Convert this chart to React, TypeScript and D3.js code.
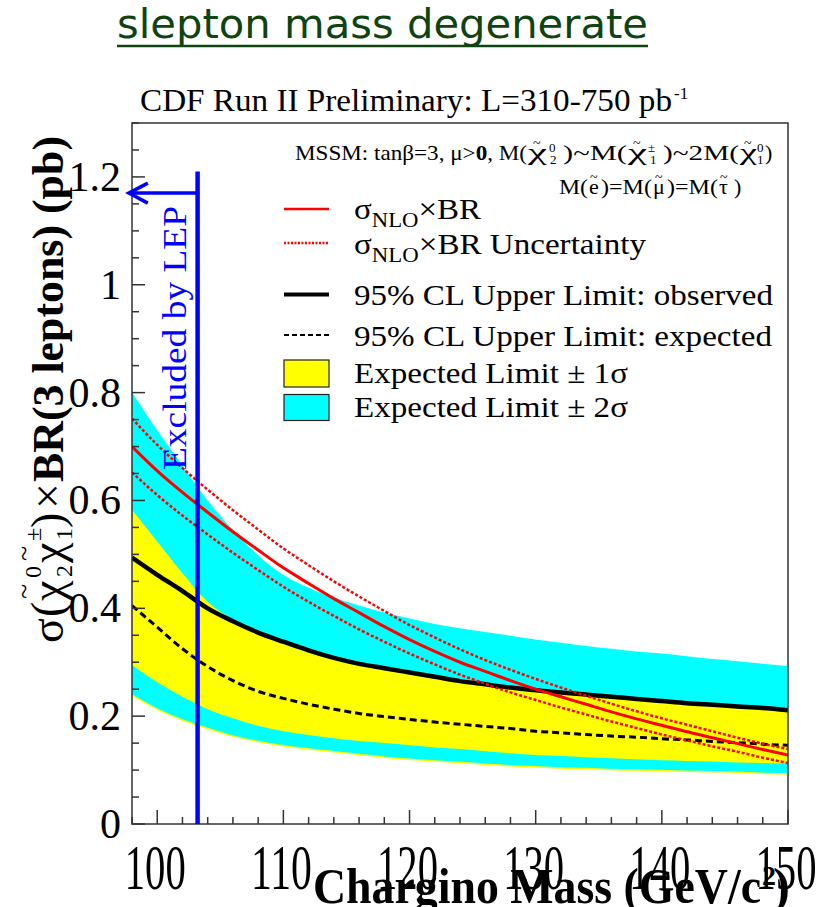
import React from "react";
import * as d3 from "d3";

// Chargino mass grid (GeV/c^2)
const masses = [98, 100, 102, 104, 106, 108, 110, 112, 114, 116, 118, 120, 122, 124, 126, 128, 130, 132, 134, 136, 138, 140, 142, 144, 146, 148, 150];

// sigma_NLO x BR and its uncertainty band (pb)
const xsecNLO = [0.700, 0.655, 0.615, 0.578, 0.542, 0.508, 0.475, 0.446, 0.418, 0.392, 0.366, 0.342, 0.320, 0.300, 0.283, 0.266, 0.250, 0.236, 0.222, 0.208, 0.195, 0.183, 0.171, 0.160, 0.149, 0.138, 0.128];
const xsecNLOUp = [0.752, 0.703, 0.660, 0.620, 0.582, 0.546, 0.511, 0.480, 0.450, 0.422, 0.395, 0.369, 0.346, 0.324, 0.304, 0.286, 0.269, 0.253, 0.238, 0.223, 0.209, 0.196, 0.184, 0.172, 0.160, 0.149, 0.139];
const xsecNLODown = [0.652, 0.610, 0.572, 0.537, 0.503, 0.471, 0.440, 0.412, 0.386, 0.361, 0.338, 0.316, 0.296, 0.277, 0.260, 0.244, 0.230, 0.216, 0.203, 0.190, 0.178, 0.166, 0.155, 0.144, 0.134, 0.123, 0.113];

// 95% CL upper limits (pb)
const obsLimit = [0.494, 0.462, 0.432, 0.400, 0.376, 0.355, 0.338, 0.322, 0.308, 0.297, 0.289, 0.281, 0.273, 0.265, 0.259, 0.253, 0.248, 0.244, 0.240, 0.236, 0.232, 0.228, 0.224, 0.221, 0.218, 0.215, 0.211];
const expLimit = [0.405, 0.365, 0.325, 0.292, 0.266, 0.246, 0.233, 0.222, 0.213, 0.205, 0.199, 0.194, 0.189, 0.185, 0.181, 0.177, 0.172, 0.169, 0.166, 0.163, 0.161, 0.158, 0.156, 0.153, 0.151, 0.148, 0.146];

// Expected limit bands
const exp1SigUp = [0.583, 0.524, 0.465, 0.412, 0.378, 0.353, 0.334, 0.318, 0.305, 0.294, 0.286, 0.278, 0.270, 0.263, 0.257, 0.251, 0.246, 0.241, 0.237, 0.233, 0.229, 0.225, 0.221, 0.218, 0.215, 0.212, 0.208];
const exp1SigDown = [0.295, 0.263, 0.236, 0.213, 0.196, 0.182, 0.172, 0.165, 0.159, 0.154, 0.150, 0.146, 0.142, 0.139, 0.135, 0.131, 0.128, 0.126, 0.124, 0.122, 0.120, 0.118, 0.117, 0.116, 0.114, 0.113, 0.112];
const exp2SigUp = [0.800, 0.730, 0.665, 0.600, 0.545, 0.498, 0.462, 0.438, 0.420, 0.405, 0.392, 0.381, 0.371, 0.363, 0.356, 0.349, 0.342, 0.336, 0.330, 0.325, 0.320, 0.316, 0.311, 0.306, 0.302, 0.297, 0.293];
const exp2SigDown = [0.239, 0.213, 0.193, 0.177, 0.163, 0.153, 0.145, 0.139, 0.134, 0.129, 0.124, 0.120, 0.117, 0.114, 0.111, 0.108, 0.106, 0.104, 0.103, 0.101, 0.100, 0.099, 0.098, 0.097, 0.096, 0.094, 0.093];

// Axes
const xDomain = [98, 150];
const yDomain = [0, 1.3];
const xMajorTicks = [100, 110, 120, 130, 140, 150];
const xTickLabels = ["100", "110", "120", "130", "140", "150"];
const yMajorTicks = [0, 0.2, 0.4, 0.6, 0.8, 1.0, 1.2];
const yTickLabels = ["0", "0.2", "0.4", "0.6", "0.8", "1", "1.2"];

// LEP exclusion
const lepMass = 103.2;
const lepLineTop = 1.21;
const lepArrowLevel = 1.17;
const lepArrowEnd = 97.75;

const FRAME = { left: 132, right: 788, top: 123, bottom: 824 };
const SERIF = '"Liberation Serif", "Times New Roman", Times, serif';

export default function App() {
  const x = d3.scaleLinear().domain(xDomain).range([FRAME.left, FRAME.right]);
  const y = d3.scaleLinear().domain(yDomain).range([FRAME.bottom, FRAME.top]);

  const idx = masses.map((_, i) => i);
  const band = (lo: number[], hi: number[]) =>
    d3
      .area<number>()
      .x((i) => x(masses[i]))
      .y0((i) => y(lo[i]))
      .y1((i) => y(hi[i]))
      .curve(d3.curveMonotoneX)(idx) || "";
  const curve = (vals: number[]) =>
    d3
      .line<number>()
      .x((i) => x(masses[i]))
      .y((i) => y(vals[i]))
      .curve(d3.curveMonotoneX)(idx) || "";

  const xMinor = d3.range(xDomain[0], xDomain[1] + 0.001, 2).filter((v) => !xMajorTicks.includes(v));
  const yMinor = d3.range(0, yDomain[1] + 0.001, 0.05).filter((v) => !yMajorTicks.some((t) => Math.abs(t - v) < 1e-6));

  const lx = x(lepMass);
  const ay = y(lepArrowLevel);
  const ax = x(lepArrowEnd);

  const tilde = (px: number, py: number, size: number, key: string) => (
    <text key={key} x={px} y={py} fontSize={size}>~</text>
  );

  return (
    <svg
      width={840}
      height={907}
      style={{ position: "absolute", left: 0, top: 0, background: "#fff", fontFamily: SERIF }}
    >
      <defs>
        <clipPath id="plotClip">
          <rect x={FRAME.left} y={FRAME.top} width={FRAME.right - FRAME.left} height={FRAME.bottom - FRAME.top} />
        </clipPath>
      </defs>
      <rect x={0} y={0} width={840} height={907} fill="#fff" />

      {/* Slide heading */}
      <text
        x={117}
        y={38}
        style={{ fontFamily: '"DejaVu Sans", Verdana, sans-serif' }}
        fontSize={41}
        fill="#0f430f"
        textLength={531}
        lengthAdjust="spacingAndGlyphs"
      >
        slepton mass degenerate
      </text>
      <line x1={117} x2={648} y1={46} y2={46} stroke="#0f430f" strokeWidth={2.5} />

      {/* Plot header */}
      <text x={140} y={111} fontSize={31} fill="#000" textLength={532} lengthAdjust="spacingAndGlyphs">
        CDF Run II Preliminary: L=310-750 pb
      </text>
      <text x={674} y={99} fontSize={17} fill="#000">-1</text>

      {/* Bands and curves */}
      <g clipPath="url(#plotClip)">
        <path d={band(exp2SigDown, exp2SigUp)} fill="#00ffff" />
        <path d={band(exp1SigDown, exp1SigUp)} fill="#ffff00" />
        <path d={curve(exp2SigDown)} fill="none" stroke="#ffff00" strokeWidth={1.5} />
        <path d={curve(obsLimit)} fill="none" stroke="#000" strokeWidth={4.5} />
        <path d={curve(expLimit)} fill="none" stroke="#000" strokeWidth={3} strokeDasharray="7,4" />
        <path d={curve(xsecNLOUp)} fill="none" stroke="#ff0000" strokeWidth={2.5} strokeDasharray="3,2" />
        <path d={curve(xsecNLODown)} fill="none" stroke="#ff0000" strokeWidth={2.5} strokeDasharray="3,2" />
        <path d={curve(xsecNLO)} fill="none" stroke="#ff0000" strokeWidth={3} />
      </g>

      {/* Frame */}
      <rect
        x={FRAME.left}
        y={FRAME.top}
        width={FRAME.right - FRAME.left}
        height={FRAME.bottom - FRAME.top}
        fill="none"
        stroke="#333"
        strokeWidth={1.5}
      />

      {/* X ticks */}
      {xMajorTicks.map((t) => (
        <line key={"xM" + t} x1={x(t)} x2={x(t)} y1={FRAME.bottom} y2={FRAME.bottom - 14} stroke="#333" strokeWidth={1.5} />
      ))}
      {xMinor.map((t) => (
        <line key={"xm" + t} x1={x(t)} x2={x(t)} y1={FRAME.bottom} y2={FRAME.bottom - 7} stroke="#333" strokeWidth={1.5} />
      ))}
      {xMajorTicks.map((t, i) => (
        <text key={"xl" + t} x={x(t) - 2} y={889} fontSize={63} textAnchor="middle" textLength={61} lengthAdjust="spacingAndGlyphs">
          {xTickLabels[i]}
        </text>
      ))}

      {/* Y ticks */}
      {yMajorTicks.map((t) => (
        <line key={"yM" + t} x1={FRAME.left} x2={FRAME.left + 13} y1={y(t)} y2={y(t)} stroke="#333" strokeWidth={1.5} />
      ))}
      {yMinor.map((t) => (
        <line key={"ym" + t} x1={FRAME.left} x2={FRAME.left + 7} y1={y(t)} y2={y(t)} stroke="#333" strokeWidth={1.5} />
      ))}
      {yMajorTicks.map((t, i) => (
        <text key={"yl" + t} x={121} y={y(t) + 14} fontSize={42} textAnchor="end">
          {yTickLabels[i]}
        </text>
      ))}

      {/* X axis title */}
      <text x={313} y={903} fontSize={51} fontWeight="bold" textLength={448} lengthAdjust="spacingAndGlyphs">
        Chargino Mass (GeV/c
      </text>
      <text x={762} y={885} fontSize={28} fontWeight="bold">2</text>
      <text x={773} y={903} fontSize={51} fontWeight="bold">)</text>

      {/* Y axis title, laid out along the rotated baseline */}
      <g transform="translate(63,645) rotate(-90)">
        <text x={2} y={0} fontSize={46}>σ</text>
        <text x={28} y={0} fontSize={46}>(</text>
        <text x={44} y={0} fontSize={46}>χ</text>
        {tilde(46, -30, 28, "t1")}
        <text x={67} y={-22} fontSize={24}>0</text>
        <text x={68} y={9} fontSize={24}>2</text>
        <text x={82} y={0} fontSize={46}>χ</text>
        {tilde(84, -30, 28, "t2")}
        <text x={104} y={-22} fontSize={24}>±</text>
        <text x={105} y={9} fontSize={24}>1</text>
        <text x={117} y={0} fontSize={46}>)</text>
        <text x={136} y={0} fontSize={46}>×</text>
        <text x={163} y={0} fontSize={45} fontWeight="bold" textLength={346} lengthAdjust="spacingAndGlyphs">
          BR(3 leptons) (pb)
        </text>
      </g>

      {/* LEP exclusion */}
      <line x1={lx} x2={lx} y1={y(lepLineTop)} y2={y(0)} stroke="#0000ff" strokeWidth={4.5} />
      <line x1={lx} x2={ax + 1} y1={ay} y2={ay} stroke="#0000ff" strokeWidth={3.5} />
      <path d={`M${ax + 19},${ay - 10} L${ax},${ay} L${ax + 19},${ay + 10}`} fill="none" stroke="#0000ff" strokeWidth={3.5} />
      <text
        transform={`translate(186,470) rotate(-90)`}
        fontSize={33}
        fill="#0000ff"
        textLength={264}
        lengthAdjust="spacingAndGlyphs"
      >
        Excluded by LEP
      </text>

      {/* Model description, first line */}
      <text x={295} y={160} fontSize={22} textLength={232} lengthAdjust="spacingAndGlyphs">
        MSSM: tanβ=3, μ&gt;<tspan fontWeight="bold">0</tspan>, M(
      </text>
      <text x={528} y={160} fontSize={24} textLength={19} lengthAdjust="spacingAndGlyphs">χ</text>
      {tilde(533, 148, 14, "m1")}
      <text x={549} y={152} fontSize={13}>0</text>
      <text x={550} y={164} fontSize={13}>2</text>
      <text x={563} y={160} fontSize={22} textLength={64} lengthAdjust="spacingAndGlyphs">)~M(</text>
      <text x={628} y={160} fontSize={24} textLength={19} lengthAdjust="spacingAndGlyphs">χ</text>
      {tilde(633, 148, 14, "m2")}
      <text x={648} y={152} fontSize={13}>±</text>
      <text x={650} y={164} fontSize={13}>1</text>
      <text x={663} y={160} fontSize={22} textLength={76} lengthAdjust="spacingAndGlyphs">)~2M(</text>
      <text x={740} y={160} fontSize={24} textLength={17} lengthAdjust="spacingAndGlyphs">χ</text>
      {tilde(744, 148, 14, "m3")}
      <text x={757} y={152} fontSize={13}>0</text>
      <text x={757} y={164} fontSize={13}>1</text>
      <text x={765} y={160} fontSize={22}>)</text>

      {/* Model description, second line */}
      <text x={559} y={194} fontSize={22} textLength={29} lengthAdjust="spacingAndGlyphs">M(</text>
      <text x={589} y={194} fontSize={22}>e</text>
      {tilde(590, 182, 14, "s1")}
      <text x={601} y={194} fontSize={22} textLength={51} lengthAdjust="spacingAndGlyphs">)=M(</text>
      <text x={653} y={194} fontSize={22}>μ</text>
      {tilde(655, 182, 14, "s2")}
      <text x={667} y={194} fontSize={22} textLength={51} lengthAdjust="spacingAndGlyphs">)=M(</text>
      <text x={719} y={194} fontSize={22}>τ</text>
      {tilde(720, 182, 14, "s3")}
      <text x={734} y={194} fontSize={22}>)</text>

      {/* Legend */}
      <line x1={284} x2={329} y1={209} y2={209} stroke="#ff0000" strokeWidth={2.5} />
      <text x={354} y={219} fontSize={29} textLength={127} lengthAdjust="spacingAndGlyphs">
        σ<tspan fontSize={20} dy={8}>NLO</tspan><tspan dy={-8}>×BR</tspan>
      </text>
      <line x1={284} x2={329} y1={243} y2={243} stroke="#ff0000" strokeWidth={2.5} strokeDasharray="2,1.5" />
      <text x={354} y={254} fontSize={29} textLength={292} lengthAdjust="spacingAndGlyphs">
        σ<tspan fontSize={20} dy={8}>NLO</tspan><tspan dy={-8}>×BR Uncertainty</tspan>
      </text>
      <line x1={284} x2={329} y1={294.5} y2={294.5} stroke="#000" strokeWidth={4} />
      <text x={354} y={305} fontSize={29} textLength={419} lengthAdjust="spacingAndGlyphs">
        95% CL Upper Limit: observed
      </text>
      <line x1={284} x2={329} y1={335} y2={335} stroke="#000" strokeWidth={2} strokeDasharray="5,3" />
      <text x={354} y={346} fontSize={29} textLength={418} lengthAdjust="spacingAndGlyphs">
        95% CL Upper Limit: expected
      </text>
      <rect x={284} y={360} width={45} height={27} fill="#ffff00" stroke="#222" strokeWidth={1.2} />
      <text x={354} y={383} fontSize={29} textLength={274} lengthAdjust="spacingAndGlyphs">
        Expected Limit ± 1σ
      </text>
      <rect x={284} y={394.5} width={45} height={26} fill="#00ffff" stroke="#222" strokeWidth={1.2} />
      <text x={354} y={417} fontSize={29} textLength={274} lengthAdjust="spacingAndGlyphs">
        Expected Limit ± 2σ
      </text>
    </svg>
  );
}
